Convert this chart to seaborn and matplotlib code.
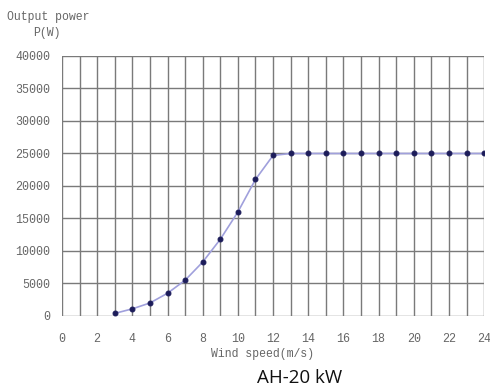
import matplotlib
matplotlib.use("Agg")
import matplotlib.pyplot as plt
import seaborn as sns
import pandas as pd

wind_speed = [3, 4, 5, 6, 7, 8, 9, 10, 11, 12, 13, 14, 15, 16, 17, 18, 19, 20, 21, 22, 23, 24]
power = [400, 1100, 2000, 3500, 5500, 8300, 11800, 16000, 21000, 24700,
         25000, 25000, 25000, 25000, 25000, 25000, 25000, 25000, 25000, 25000, 25000, 25000]
x_ticks = list(range(0, 25, 2))
y_ticks = list(range(0, 40001, 5000))

sns.set_style("white")
plt.rcParams['font.family'] = ['Liberation Mono', 'DejaVu Sans']

df = pd.DataFrame({"wind": wind_speed, "power": power})

fig = plt.figure(figsize=(4.9, 3.88), dpi=100)
ax = fig.add_axes([0.1265, 0.1856, 0.8615, 0.6701])

ax.set_xlim(0, 24)
ax.set_ylim(0, 40000)
for v in range(0, 25):
    ax.axvline(v, color="#7a7a7a", lw=1.0, zorder=1)
for v in y_ticks:
    ax.axhline(v, color="#7a7a7a", lw=1.0, zorder=1)

sns.lineplot(data=df, x="wind", y="power", ax=ax, color="#a0a0dc", lw=1.2,
             marker="o", markersize=3.5, markerfacecolor="#1c1c5a",
             markeredgecolor="#1c1c5a", zorder=3)

ax.set_xticks(x_ticks)
ax.set_yticks(y_ticks)
ax.set_xticklabels([str(t) for t in x_ticks], fontsize=8.4, color="#666666")
ax.set_yticklabels([str(t) for t in y_ticks], fontsize=8.4, color="#666666")
ax.tick_params(axis="x", pad=12, length=0)
ax.tick_params(axis="y", pad=8.6, length=0)
for s in ax.spines.values():
    s.set_visible(False)
ax.set_xlabel("")
ax.set_ylabel("")

fig.text(263 / 490, 1 - 354 / 388, "Wind speed(m/s)", fontsize=8.3, color="#666666",
         ha="center", va="center")
fig.text(7 / 490, 1 - 17 / 388, "Output power", fontsize=8.3, color="#666666",
         ha="left", va="center")
fig.text(33 / 490, 1 - 33 / 388, "P(W)", fontsize=8.3, color="#666666",
         ha="left", va="center")
fig.text(300 / 490, 1 - 378 / 388, "AH-20 kW", fontsize=13.5, color="#111111",
         ha="center", va="center", family=["Open Sans", "DejaVu Sans"])

fig.savefig("out.png", dpi=100)
